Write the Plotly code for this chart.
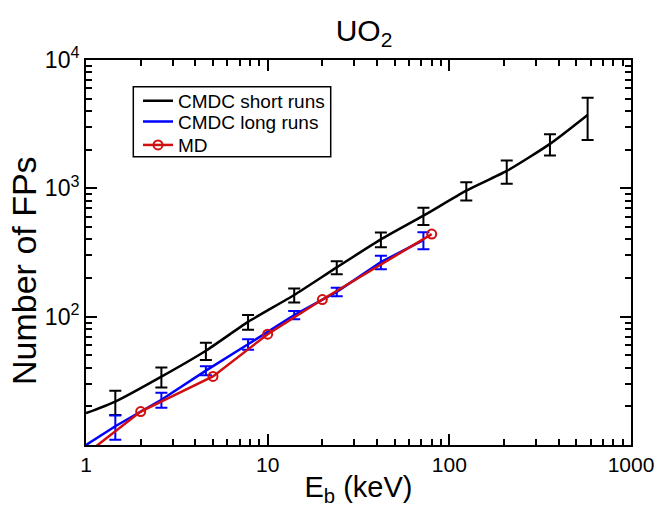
import plotly.graph_objects as go

# CMDC short runs (black)
short_line_x = [1, 1.45, 2.6, 4.57, 7.8, 14, 24, 42, 72, 124, 207, 358, 577]
short_line_y = [17.7, 21.8, 34.1, 54.3, 91, 147.5, 242, 400, 612, 960, 1366, 2220, 3733]
short_err_x = [1.45, 2.6, 4.57, 7.8, 14, 24, 42, 72, 124, 207, 358, 577]
short_err_y = [21.8, 34.1, 54.3, 91, 147.5, 242, 400, 612, 960, 1366, 2220, 3733]
short_err = [4.7, 6.0, 8.3, 12, 18.5, 28, 53, 95, 157, 280, 420, 1350]

# CMDC long runs (blue)
long_line_x = [1, 1.45, 2.6, 4.57, 7.8, 14, 24, 42, 72]
long_line_y = [10, 14, 22.5, 38, 61, 103, 156, 266, 395]
long_err_x = [1.45, 2.6, 4.57, 7.8, 14, 24, 42, 72]
long_err_y = [14, 22.5, 38, 61, 103, 156, 266, 395]
long_err = [3, 3, 3.1, 5.7, 7.5, 12, 32, 60]

# MD (red)
md_x = [1, 2, 5, 10, 20, 80]
md_y = [8.5, 18.2, 34.2, 73, 136, 440]

x_tickvals = [1, 10, 100, 1000]
x_ticktext = ["1", "10", "100", "1000"]
y_tickvals = [100, 1000, 10000]
y_ticktext = ["10<sup>2</sup>", "10<sup>3</sup>", "10<sup>4</sup>"]
x_minor = [m * d for d in (1, 10, 100) for m in range(2, 10)]
y_minor = [m * d for d in (10, 100, 1000) for m in range(2, 10)]

BLACK = "#000000"
BLUE = "#0000ff"
RED = "#d01010"
FONT = "Liberation Sans, Arial, sans-serif"

fig = go.Figure()

fig.add_trace(go.Scatter(
    x=short_line_x, y=short_line_y, mode="lines", name="CMDC short runs",
    line=dict(color=BLACK, width=2.5, shape="spline", smoothing=0.6),
    legend="legend",
))
fig.add_trace(go.Scatter(
    x=short_err_x, y=short_err_y, mode="markers", showlegend=False,
    marker=dict(size=1, color="rgba(0,0,0,0)"),
    error_y=dict(type="data", array=short_err, color=BLACK, thickness=2, width=6),
))
fig.add_trace(go.Scatter(
    x=long_line_x, y=long_line_y, mode="lines", name="CMDC long runs",
    line=dict(color=BLUE, width=2.5),
    legend="legend2",
))
fig.add_trace(go.Scatter(
    x=long_err_x, y=long_err_y, mode="markers", showlegend=False,
    marker=dict(size=1, color="rgba(0,0,0,0)"),
    error_y=dict(type="data", array=long_err, color=BLUE, thickness=2, width=6),
))
fig.add_trace(go.Scatter(
    x=md_x, y=md_y, mode="lines+markers", name="MD",
    line=dict(color=RED, width=2.5),
    marker=dict(symbol="circle-open", size=9, color=RED, line=dict(width=2, color=RED)),
    legend="legend3",
))

axis_common = dict(
    type="log", showline=True, linecolor=BLACK, linewidth=2, mirror="allticks",
    ticks="inside", ticklen=11, tickwidth=1.5, tickcolor=BLACK,
    showgrid=False, zeroline=False, automargin=False,
)

fig.update_xaxes(
    **axis_common, range=[0, 3], tickmode="array", tickvals=x_tickvals, ticktext=x_ticktext,
    tickfont=dict(family=FONT, size=21, color=BLACK),
    minor=dict(tickmode="array", tickvals=x_minor, ticks="inside", ticklen=6,
               tickwidth=1.5, tickcolor=BLACK, showgrid=False),
    title=dict(text="E<sub>b</sub> (keV)", font=dict(family=FONT, size=29, color=BLACK), standoff=11),
)
fig.update_yaxes(
    **axis_common, range=[1, 4], tickmode="array", tickvals=y_tickvals, ticktext=y_ticktext,
    tickfont=dict(family=FONT, size=23, color=BLACK),
    minor=dict(tickmode="array", tickvals=y_minor, ticks="inside", ticklen=6,
               tickwidth=1.5, tickcolor=BLACK, showgrid=False),
)

leg_common = dict(xanchor="left", yanchor="middle", borderwidth=0,
                  bgcolor="rgba(0,0,0,0)", font=dict(family=FONT, size=19, color=BLACK),
                  itemwidth=30)

fig.update_layout(
    width=657, height=507,
    margin=dict(l=86, r=26, t=60, b=62),
    paper_bgcolor="white", plot_bgcolor="white",
    title=dict(text="UO<sub>2</sub>", x=0.554, xanchor="center", y=0.94, yanchor="middle",
               font=dict(family=FONT, size=30, color=BLACK)),
    legend=dict(x=0.0954, y=0.894, **leg_common),
    legend2=dict(x=0.0954, y=0.840, **leg_common),
    legend3=dict(x=0.0954, y=0.779, **leg_common),
    showlegend=True,
    shapes=[dict(type="rect", xref="paper", yref="paper",
                 x0=0.0868, x1=0.449, y0=0.7488, y1=0.9306,
                 line=dict(color=BLACK, width=1.5), fillcolor="rgba(0,0,0,0)", layer="above")],
    annotations=[dict(text="Number of FPs", xref="paper", yref="paper",
                      x=-0.1138, y=0.4545, xanchor="center", yanchor="middle",
                      textangle=-90, showarrow=False,
                      font=dict(family=FONT, size=34, color=BLACK))],
)

fig.write_html("out.html", config={"displayModeBar": False},
               post_script="document.body.style.margin='0px';")
